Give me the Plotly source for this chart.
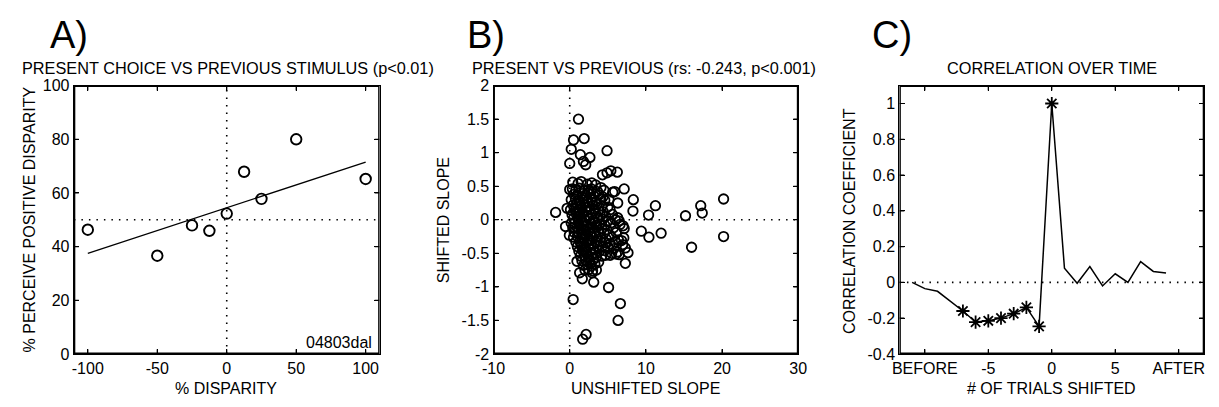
import plotly.graph_objects as go

W, H = 1219, 407
FONT = "Arial, Liberation Sans, sans-serif"

# ---------------- Panel A data ----------------
a_disparity = [-100, -50, -25, -12.5, 0, 12.5, 25, 50, 100]
a_perceive = [46.3, 36.6, 47.9, 45.9, 52.3, 67.9, 57.8, 80.0, 65.2]
a_fit_x = [-100, 100]
a_fit_y = [37.5, 71.5]

# ---------------- Panel B data ----------------
b_outlier_x = [1.15, 0.5, 1.9, 0.2, 1.4, 2.65, 1.8, 2.1, 4.9, 0.0, 4.3, 5.4, 6.25, 4.9,
               5.9, 7.15, 8.35, 6.3, 8.3, 11.25, 10.35, 15.2, 17.2, 17.4, 20.2, 20.2,
               16.0, 12.0, 10.4, 9.4, -1.85, -0.35, -0.55, -0.05, 0.95, 1.3, 1.65, 3.15,
               5.1, 0.45, 6.65, 6.35, 2.15, 1.7, 7.3, 7.65, 6.95, 7.15, 6.5, 6.1, 4.7,
               2.95, 3.5]
b_outlier_y = [1.50, 1.19, 1.21, 1.05, 0.97, 0.93, 0.87, 0.82, 1.03, 0.84, 0.67, 0.73, 0.71,
               0.70, 0.42, 0.46, 0.30, 0.25, 0.13, 0.21, 0.07, 0.06, 0.21, 0.10, 0.31,
               -0.25, -0.41, -0.20, -0.26, -0.17, 0.11, 0.17, -0.10, -0.23, -0.62, -0.79,
               -0.88, -0.93, -1.01, -1.19, -1.25, -1.50, -1.71, -1.78, -0.65, -0.49,
               -0.37, -0.13, -0.02, -0.51, -0.53, -0.79, -0.75]

b_cluster_x = [
    0.4, 1.1, 1.5, 2.3, 2.9, 3.4, 4.1,
    0.0, 0.35, 0.8, 1.25, 1.95, 2.45, 2.85, 3.65, 4.5, 5.65,
    0.55, 1.0, 1.65, 2.1, 2.75, 3.2, 3.85, 4.35,
    0.2, 0.75, 1.2, 1.8, 2.35, 2.8, 3.45, 4.05, 4.6, 5.15,
    0.45, 0.9, 1.4, 1.95, 2.5, 3.05, 3.6, 4.25, 5.0,
    0.1, 0.6, 1.15, 1.6, 2.15, 2.6, 3.25, 3.75, 4.4, 5.3,
    0.3, 0.85, 1.3, 1.75, 2.3, 2.95, 3.4, 4.0, 4.75, 5.6, 6.3,
    0.5, 1.05, 1.5, 2.05, 2.6, 3.1, 3.7, 4.3, 5.05, 6.0,
    0.2, 0.7, 1.2, 1.7, 2.25, 2.8, 3.35, 3.9, 4.6, 5.4, 6.6,
    0.4, 0.95, 1.45, 1.9, 2.4, 3.0, 3.55, 4.2, 4.9, 5.75, 7.0,
    0.6, 1.1, 1.6, 2.15, 2.7, 3.2, 3.8, 4.5, 5.2, 6.1,
    0.5, 1.0, 1.55, 2.0, 2.5, 3.05, 3.5, 4.1, 4.8, 5.5, 6.4, 7.1,
    0.8, 1.3, 1.8, 2.35, 2.85, 3.4, 4.0, 4.7, 5.3, 6.0, 6.8,
    1.0, 1.5, 2.05, 2.55, 3.1, 3.7, 4.3, 5.0, 5.8, 7.3,
    1.2, 1.7, 2.2, 2.75, 3.3, 3.9, 4.6, 5.5, 6.3,
    1.4, 1.9, 2.45, 2.9, 3.5, 4.2, 5.3, 6.5,
    1.6, 2.1, 2.6, 3.15, 3.8,
    1.8, 2.3, 2.85, 3.3,
    2.0, 2.5, 3.0,
    1.3, 2.2, 1.7, 2.7, 1.1, 2.4, 1.9, 3.6, 0.9, 2.0, 1.5, 2.9,
]
b_cluster_y = [
    0.56, 0.54, 0.57, 0.53, 0.55, 0.52, 0.48,
    0.45, 0.46, 0.44, 0.47, 0.43, 0.45, 0.46, 0.42, 0.44, 0.41,
    0.38, 0.37, 0.39, 0.36, 0.38, 0.35, 0.37, 0.34,
    0.30, 0.31, 0.29, 0.32, 0.28, 0.30, 0.27, 0.31, 0.29, 0.30,
    0.22, 0.23, 0.21, 0.24, 0.20, 0.22, 0.23, 0.21, 0.19,
    0.15, 0.16, 0.14, 0.17, 0.13, 0.15, 0.16, 0.14, 0.12, 0.15,
    0.08, 0.09, 0.07, 0.10, 0.06, 0.08, 0.09, 0.07, 0.05, 0.08, 0.03,
    0.02, 0.01, 0.03, 0.00, 0.02, -0.01, 0.03, 0.01, -0.02, 0.00,
    -0.05, -0.04, -0.06, -0.03, -0.07, -0.05, -0.04, -0.06, -0.08, -0.05, -0.07,
    -0.12, -0.11, -0.13, -0.10, -0.14, -0.12, -0.11, -0.13, -0.15, -0.12, -0.09,
    -0.19, -0.18, -0.20, -0.17, -0.21, -0.19, -0.18, -0.20, -0.22, -0.19,
    -0.26, -0.25, -0.27, -0.24, -0.28, -0.26, -0.25, -0.27, -0.29, -0.26, -0.30, -0.27,
    -0.33, -0.32, -0.34, -0.31, -0.35, -0.33, -0.32, -0.34, -0.36, -0.33, -0.31,
    -0.40, -0.39, -0.41, -0.38, -0.42, -0.40, -0.39, -0.41, -0.43, -0.42,
    -0.47, -0.46, -0.48, -0.45, -0.49, -0.47, -0.46, -0.50, -0.48,
    -0.54, -0.53, -0.55, -0.52, -0.56, -0.54, -0.53, -0.52,
    -0.61, -0.60, -0.62, -0.59, -0.63,
    -0.68, -0.67, -0.69, -0.66,
    -0.75, -0.74, -0.76,
    0.25, 0.18, -0.15, -0.30, 0.05, 0.40, -0.45, -0.08, 0.12, -0.22, -0.36, 0.26,
]
b_x = b_outlier_x + b_cluster_x
b_y = b_outlier_y + b_cluster_y

# ---------------- Panel C data ----------------
c_shift = [-11, -10, -9, -8, -7, -6, -5, -4, -3, -2, -1, 0, 1, 2, 3, 4, 5, 6, 7, 8, 9]
c_corr = [0.0, -0.035, -0.05, -0.105, -0.16, -0.222, -0.215, -0.2, -0.175, -0.14,
          -0.246, 1.0, 0.079, -0.005, 0.088, -0.02, 0.048, 0.0, 0.116, 0.061, 0.052]
c_star_shift = [-7, -6, -5, -4, -3, -2, -1, 0]
c_star_corr = [-0.16, -0.222, -0.215, -0.2, -0.175, -0.14, -0.246, 1.0]
c_tickvals = [-10, -5, 0, 5, 10]
c_ticktext = ["BEFORE", "-5", "0", "5", "AFTER"]
c_ytickvals = [-0.4, -0.2, 0, 0.2, 0.4, 0.6, 0.8, 1.0]
c_yticktext = ["-0.4", "-0.2", "0", "0.2", "0.4", "0.6", "0.8", "1"]

a_xtickvals = [-100, -50, 0, 50, 100]
a_xticktext = ["-100", "-50", "0", "50", "100"]
a_ytickvals = [0, 20, 40, 60, 80, 100]
b_xtickvals = [-10, 0, 10, 20, 30]
b_xticktext = ["-10", "0", "10", "20", "30"]
b_ytickvals = [-2, -1.5, -1, -0.5, 0, 0.5, 1, 1.5, 2]
b_yticktext = ["-2", "-1.5", "-1", "-0.5", "0", "0.5", "1", "1.5", "2"]

fig = go.Figure()

def px_x(p):
    return p / W

def px_y(p):
    return 1 - p / H

top, bot = 81, 361
panels = {
    "A": dict(xa="x", ya="y", px=(63, 374), xr=(-110, 110), yr=(0, 100),
              xt=a_xtickvals, yt=a_ytickvals),
    "B": dict(xa="x2", ya="y2", px=(490, 800), xr=(-10, 30), yr=(-2, 2),
              xt=b_xtickvals, yt=b_ytickvals),
    "C": dict(xa="x3", ya="y3", px=(903, 1213), xr=(-12, 12), yr=(-0.4, 1.1),
              xt=c_tickvals, yt=c_ytickvals),
}

DOT = dict(color="black", width=1.6, dash="1.5px,6px")

# Panel A
fig.add_trace(go.Scatter(x=[-110, 110], y=[50, 50], mode="lines", line=DOT,
                         xaxis="x", yaxis="y", hoverinfo="skip"))
fig.add_trace(go.Scatter(x=[0, 0], y=[0, 100], mode="lines", line=DOT,
                         xaxis="x", yaxis="y", hoverinfo="skip"))
fig.add_trace(go.Scatter(x=a_fit_x, y=a_fit_y, mode="lines",
                         line=dict(color="black", width=1.3), xaxis="x", yaxis="y"))
fig.add_trace(go.Scatter(x=a_disparity, y=a_perceive, mode="markers",
                         marker=dict(symbol="circle-open", size=10.5, color="black",
                                     line=dict(width=1.9, color="black")),
                         xaxis="x", yaxis="y"))

# Panel B
fig.add_trace(go.Scatter(x=[-10, 30], y=[0, 0], mode="lines", line=DOT,
                         xaxis="x2", yaxis="y2", hoverinfo="skip"))
fig.add_trace(go.Scatter(x=[0, 0], y=[-2, 2], mode="lines", line=DOT,
                         xaxis="x2", yaxis="y2", hoverinfo="skip"))
fig.add_trace(go.Scatter(x=b_x, y=b_y, mode="markers",
                         marker=dict(symbol="circle-open", size=9.5, color="black",
                                     line=dict(width=1.8, color="black")),
                         xaxis="x2", yaxis="y2"))

# Panel C
fig.add_trace(go.Scatter(x=[-12, 12], y=[0, 0], mode="lines", line=DOT,
                         xaxis="x3", yaxis="y3", hoverinfo="skip"))
fig.add_trace(go.Scatter(x=c_shift, y=c_corr, mode="lines",
                         line=dict(color="black", width=1.5), xaxis="x3", yaxis="y3"))
fig.add_trace(go.Scatter(x=c_star_shift, y=c_star_corr, mode="markers",
                         marker=dict(symbol="asterisk-open", size=11, color="black",
                                     line=dict(width=1.8, color="black")),
                         xaxis="x3", yaxis="y3"))

# Frame and inside tick marks for each panel, derived from the axis ranges
for p in panels.values():
    x0, x1 = p["xr"]
    y0, y1 = p["yr"]
    wpx = p["px"][1] - p["px"][0]
    hpx = bot - top
    dx = 5 * (x1 - x0) / wpx
    dy = 5 * (y1 - y0) / hpx
    fx = [x0, x1, x1, x0, x0]
    fy = [y0, y0, y1, y1, y0]
    fig.add_trace(go.Scatter(x=fx, y=fy, mode="lines", line=dict(color="black", width=2.8),
                             xaxis=p["xa"], yaxis=p["ya"], hoverinfo="skip"))
    tx, ty = [], []
    for v in p["xt"]:
        tx += [v, v, None, v, v, None]
        ty += [y0, y0 + dy, None, y1, y1 - dy, None]
    for v in p["yt"]:
        tx += [x0, x0 + dx, None, x1, x1 - dx, None]
        ty += [v, v, None, v, v, None]
    fig.add_trace(go.Scatter(x=tx, y=ty, mode="lines", line=dict(color="black", width=1.2),
                             xaxis=p["xa"], yaxis=p["ya"], hoverinfo="skip",
                             connectgaps=False))

axis_common = dict(showline=True, linecolor="black", linewidth=1.4, mirror="allticks",
                   ticks="inside", ticklen=5, tickwidth=1.2, tickcolor="black",
                   showgrid=False, zeroline=False,
                   tickfont=dict(family=FONT, size=16, color="black"), fixedrange=True)

ydom = [px_y(bot), px_y(top)]
pa, pb, pc = panels["A"], panels["B"], panels["C"]
fig.update_layout(
    width=W, height=H, margin=dict(l=0, r=0, t=0, b=0),
    paper_bgcolor="white", plot_bgcolor="white", showlegend=False,
    xaxis=dict(domain=[px_x(pa["px"][0]), px_x(pa["px"][1])], range=list(pa["xr"]), anchor="y",
               tickmode="array", tickvals=a_xtickvals, ticktext=a_xticktext, **axis_common),
    yaxis=dict(domain=ydom, range=list(pa["yr"]), anchor="x",
               tickmode="array", tickvals=a_ytickvals, **axis_common),
    xaxis2=dict(domain=[px_x(pb["px"][0]), px_x(pb["px"][1])], range=list(pb["xr"]), anchor="y2",
                tickmode="array", tickvals=b_xtickvals, ticktext=b_xticktext, **axis_common),
    yaxis2=dict(domain=ydom, range=list(pb["yr"]), anchor="x2",
                tickmode="array", tickvals=b_ytickvals, ticktext=b_yticktext, **axis_common),
    xaxis3=dict(domain=[px_x(pc["px"][0]), px_x(pc["px"][1])], range=list(pc["xr"]), anchor="y3",
                tickmode="array", tickvals=c_tickvals, ticktext=c_ticktext, **axis_common),
    yaxis3=dict(domain=ydom, range=list(pc["yr"]), anchor="x3",
                tickmode="array", tickvals=c_ytickvals, ticktext=c_yticktext, **axis_common),
)

def ann(text, x, y, size=16, angle=0, xanchor="center"):
    fig.add_annotation(text=text, x=px_x(x), y=px_y(y), xref="paper", yref="paper",
                       showarrow=False, textangle=angle, xanchor=xanchor, yanchor="middle",
                       font=dict(family=FONT, size=size, color="black"))

# Panel letters
ann("A)", 58, 28, size=38)
ann("B)", 482, 28, size=38)
ann("C)", 895, 28, size=38)
# Titles
ann("PRESENT CHOICE VS PREVIOUS STIMULUS (p&lt;0.01)", 220, 63, size=16.3)
ann("PRESENT VS PREVIOUS (rs: -0.243, p&lt;0.001)", 643, 63, size=16.3)
ann("CORRELATION OVER TIME", 1058, 63, size=16.3)
# Axis titles
ann("% DISPARITY", 218, 397)
ann("UNSHIFTED SLOPE", 645, 397)
ann("# OF TRIALS SHIFTED", 1058, 397)
ann("% PERCEIVE POSITIVE DISPARITY", 18, 221, angle=-90)
ann("SHIFTED SLOPE", 439, 221, angle=-90)
ann("CORRELATION COEFFICIENT", 852, 222, angle=-90)
# Label inside panel A
ann("04803dal", 333, 349)

fig.write_html("out.html")
